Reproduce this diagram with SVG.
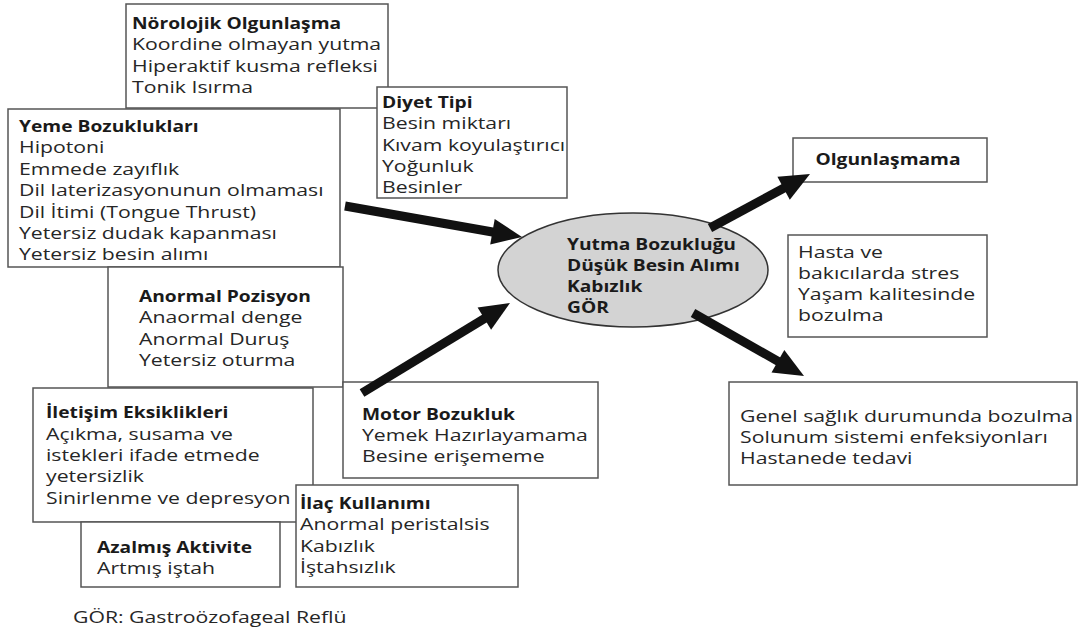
<svg xmlns="http://www.w3.org/2000/svg" width="1079" height="633" viewBox="0 0 1079 633">
<style>
.box{fill:#fff;stroke:#555;stroke-width:1.5}
.t{font-family:"Open Sans","Noto Sans","DejaVu Sans",sans-serif;font-size:15.5px;fill:#262626}
.b{font-weight:700;fill:#1a1a1a}
.sh{stroke:#111;stroke-width:9;fill:none}
.hd{fill:#111}
</style>
<rect width="1079" height="633" fill="#fff"/>
<g id="norolojik">
<rect class="box" x="126" y="4" width="262" height="104"/>
<text class="t b" transform="translate(132 0) scale(1.24 1)" x="0" y="29">Nörolojik Olgunlaşma</text>
<text class="t" transform="translate(132 0) scale(1.37 1)"><tspan x="0" y="50.3">Koordine olmayan yutma</tspan><tspan x="0" y="71.6">Hiperaktif kusma refleksi</tspan><tspan x="0" y="93">Tonik Isırma</tspan></text>
</g>
<g id="diyet">
<rect class="box" x="377" y="87" width="190" height="111"/>
<text class="t b" transform="translate(382 0) scale(1.24 1)" x="0" y="108">Diyet Tipi</text>
<text class="t" transform="translate(382 0) scale(1.37 1)"><tspan x="0" y="129.3">Besin miktarı</tspan><tspan x="0" y="150.6">Kıvam koyulaştırıcı</tspan><tspan x="0" y="172">Yoğunluk</tspan><tspan x="0" y="193.3">Besinler</tspan></text>
</g>
<g id="yeme">
<rect class="box" x="8" y="109" width="332" height="158"/>
<text class="t b" transform="translate(19 0) scale(1.24 1)" x="0" y="132">Yeme Bozuklukları</text>
<text class="t" transform="translate(19 0) scale(1.37 1)"><tspan x="0" y="153.4">Hipotoni</tspan><tspan x="0" y="174.8">Emmede zayıflık</tspan><tspan x="0" y="196.2">Dil laterizasyonunun olmaması</tspan><tspan x="0" y="217.6">Dil İtimi (Tongue Thrust)</tspan><tspan x="0" y="239">Yetersiz dudak kapanması</tspan><tspan x="0" y="260.4">Yetersiz besin alımı</tspan></text>
</g>
<g id="anormal">
<rect class="box" x="108" y="267" width="235" height="120"/>
<text class="t b" transform="translate(139 0) scale(1.24 1)" x="0" y="302">Anormal Pozisyon</text>
<text class="t" transform="translate(139 0) scale(1.37 1)"><tspan x="0" y="323.3">Anaormal denge</tspan><tspan x="0" y="344.6">Anormal Duruş</tspan><tspan x="0" y="366">Yetersiz oturma</tspan></text>
</g>
<g id="motor">
<rect class="box" x="343" y="382" width="255" height="96"/>
<text class="t b" transform="translate(362 0) scale(1.24 1)" x="0" y="420">Motor Bozukluk</text>
<text class="t" transform="translate(362 0) scale(1.37 1)"><tspan x="0" y="441">Yemek Hazırlayamama</tspan><tspan x="0" y="462">Besine erişememe</tspan></text>
</g>
<g id="iletisim">
<rect class="box" x="33" y="388" width="280" height="134"/>
<text class="t b" transform="translate(46 0) scale(1.24 1)" x="0" y="418.5">İletişim Eksiklikleri</text>
<text class="t" transform="translate(46 0) scale(1.37 1)"><tspan x="0" y="439.8">Açıkma, susama ve</tspan><tspan x="0" y="461.1">istekleri ifade etmede</tspan><tspan x="0" y="482.4">yetersizlik</tspan><tspan x="0" y="503.7">Sinirlenme ve depresyon</tspan></text>
</g>
<g id="ilac">
<rect class="box" x="296" y="485" width="222" height="102"/>
<text class="t b" transform="translate(300 0) scale(1.24 1)" x="0" y="509">İlaç Kullanımı</text>
<text class="t" transform="translate(300 0) scale(1.37 1)"><tspan x="0" y="530.5">Anormal peristalsis</tspan><tspan x="0" y="552">Kabızlık</tspan><tspan x="0" y="573.5">İştahsızlık</tspan></text>
</g>
<g id="azalmis">
<rect class="box" x="81" y="522" width="199" height="65"/>
<text class="t b" transform="translate(97 0) scale(1.24 1)" x="0" y="553">Azalmış Aktivite</text>
<text class="t" transform="translate(97 0) scale(1.37 1)" x="0" y="574">Artmış iştah</text>
</g>
<g id="merkez">
<ellipse cx="633" cy="270" rx="135" ry="57" fill="#d3d3d3" stroke="#333" stroke-width="1.5"/>
<text class="t b" transform="translate(567 0) scale(1.24 1)"><tspan x="0" y="250">Yutma Bozukluğu</tspan><tspan x="0" y="271">Düşük Besin Alımı</tspan><tspan x="0" y="292">Kabızlık</tspan><tspan x="0" y="313">GÖR</tspan></text>
</g>
<g id="olgunlasmama">
<rect class="box" x="793" y="138" width="194" height="44"/>
<text class="t b" text-anchor="middle" transform="translate(888 0) scale(1.24 1)" x="0" y="165">Olgunlaşmama</text>
</g>
<g id="hasta">
<rect class="box" x="788" y="235" width="199" height="102"/>
<text class="t" transform="translate(798 0) scale(1.37 1)"><tspan x="0" y="258">Hasta ve</tspan><tspan x="0" y="279">bakıcılarda stres</tspan><tspan x="0" y="300">Yaşam kalitesinde</tspan><tspan x="0" y="321">bozulma</tspan></text>
</g>
<g id="genel">
<rect class="box" x="729" y="382" width="348" height="103"/>
<text class="t" transform="translate(740 0) scale(1.37 1)"><tspan x="0" y="422.5">Genel sağlık durumunda bozulma</tspan><tspan x="0" y="443.5">Solunum sistemi enfeksiyonları</tspan><tspan x="0" y="464.5">Hastanede tedavi</tspan></text>
</g>
<g id="dipnot">
<text class="t" transform="translate(73 0) scale(1.37 1)" x="0" y="623">GÖR: Gastroözofageal Reflü</text>
</g>
<g id="connectors">
<line class="sh" x1="345" y1="206" x2="494" y2="232.2"/>
<polygon class="hd" points="522,237 490.2,244.6 494.7,219"/>
<line class="sh" x1="362" y1="393" x2="486" y2="317.6"/>
<polygon class="hd" points="510,303 491.1,329.7 477.6,307.5"/>
<line class="sh" x1="710" y1="228" x2="785" y2="187.5"/>
<polygon class="hd" points="810,174 789.8,199.7 777.4,176.8"/>
<line class="sh" x1="693" y1="313" x2="779.5" y2="362.1"/>
<polygon class="hd" points="804,376 771.5,372.5 784.3,349.9"/>
</g>
</svg>
